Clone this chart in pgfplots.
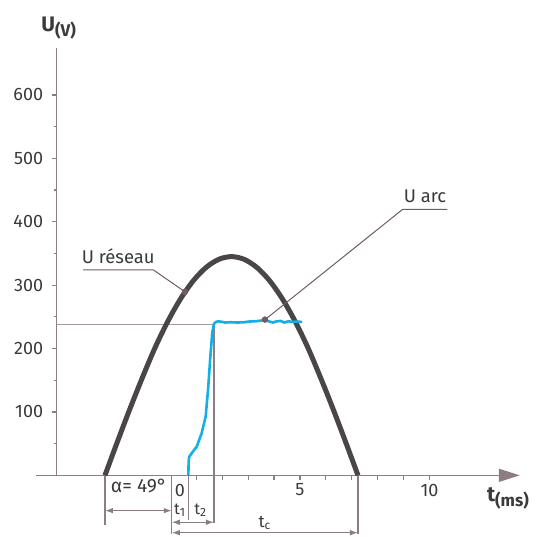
\documentclass[border=0pt]{standalone}
\usepackage{fontspec}
\setmainfont{Fira Sans}
\usepackage{pgfplots}
\pgfplotsset{compat=1.18}
\usetikzlibrary{arrows.meta}
\definecolor{axc}{RGB}{140,125,132}
\definecolor{curvec}{RGB}{74,70,72}
\definecolor{bluec}{RGB}{20,175,230}
\definecolor{leadc}{RGB}{112,92,100}
\definecolor{txtc}{RGB}{58,58,58}
\definecolor{hlc}{RGB}{165,152,156}
\begin{document}
\begin{tikzpicture}
\begin{axis}[
  x=12.95pt, y=0.317pt,
  xmin=-4.39, xmax=13.49, ymin=0, ymax=674,
  axis lines=left,
  clip=false,
  x axis line style={-{Triangle[length=10.5pt,width=6.5pt]}, color=axc, line width=0.7pt},
  y axis line style={-, color=axc, line width=0.7pt},
  tick align=outside,
  tick style={color=axc, line width=0.6pt},
  major tick length=2.5pt,
  minor tick length=1.5pt,
  xtick={1,2,3,4,5,6,7,8,9,10},
  xticklabels={,,,,5,,,,,10},
  ytick={100,200,300,400,500,600},
  minor ytick={50,150,250,350,450,550},
  tick label style={font=\fontsize{9}{11}\selectfont, text=txtc},
  xticklabel style={yshift=1.8pt},
  yticklabel style={xshift=-0.8pt},
  /pgf/number format/assume math mode=true,
  extra x ticks={0},
  extra x tick labels={0},
  extra x tick style={tick style={draw=none}, xticklabel style={xshift=4.75pt}},
]
% invisible frame of the picture
\path (axis cs:-6.583,749.8) rectangle (axis cs:14.23,-92.4);
% x axis continued to the left
\addplot[axc, line width=0.7pt] coordinates {(-5.19,0) (-4.39,0)};
% horizontal reference line
\addplot[hlc, line width=0.9pt] coordinates {(-4.39,238) (1.68,238)};
% vertical construction lines
\addplot[axc, line width=0.6pt] coordinates {(-2.53,0) (-2.53,-78)};
\addplot[axc, line width=0.6pt] coordinates {(0.05,0) (0.05,-92)};
\addplot[axc, line width=0.6pt] coordinates {(0.69,0) (0.69,-70)};
\addplot[axc, line width=0.6pt] coordinates {(1.68,238) (1.68,-75)};
\addplot[axc, line width=0.6pt] coordinates {(7.24,0) (7.24,-92)};
% dimension arrows
\addplot[axc, line width=0.6pt, {Latex[length=4pt,width=2.8pt]}-{Latex[length=4pt,width=2.8pt]}] coordinates {(-2.53,-55.7) (0.05,-55.7)};
\addplot[axc, line width=0.6pt, {Latex[length=4pt,width=2.8pt]}-{Latex[length=4pt,width=2.8pt]}] coordinates {(0.05,-74) (1.68,-74)};
\addplot[axc, line width=0.6pt, {Latex[length=4pt,width=2.8pt]}-{Latex[length=4pt,width=2.8pt]}] coordinates {(0.05,-90.5) (7.24,-90.5)};
% U reseau (sine half wave)
\addplot[curvec, line width=2.5pt, smooth] coordinates {
 (-2.53,0) (-2.04,54.0) (-1.55,106.6) (-1.06,156.6) (-0.58,202.8) (-0.09,243.9)
 (0.40,279.1) (0.89,307.4) (1.38,328.1) (1.87,340.8) (2.355,345)
 (2.84,340.8) (3.33,328.1) (3.82,307.4) (4.31,279.1) (4.80,243.9)
 (5.29,202.8) (5.77,156.6) (6.26,106.6) (6.75,54.0) (7.24,0)};
% U arc
\addplot[bluec, line width=1.3pt] coordinates {
 (0.69,0) (0.70,20) (0.72,29) (0.82,35) (1.01,45) (1.20,66) (1.36,93)
 (1.46,140) (1.53,182) (1.61,224) (1.68,239) (1.76,242) (1.85,243)
 (2.00,242) (2.10,241) (2.30,241.5) (2.60,241) (2.85,241.5) (3.00,242.5)
 (3.30,243) (3.65,245) (3.80,243) (3.95,241) (4.10,243) (4.25,243.5)
 (4.40,241) (4.55,243) (4.70,242) (4.85,242.5) (5.08,242)};
% leaders
\addplot[leadc, line width=0.5pt] coordinates {(-3.37,324) (-0.66,324) (0.56,289.5)};
\addplot[leadc, line width=0.5pt] coordinates {(3.65,245.6) (8.97,419.7) (10.69,419.7)};
\addplot[only marks, mark=*, mark size=1.4pt, leadc] coordinates {(0.56,289.5) (3.65,245.6)};
% texts
\node[text=txtc, font=\fontsize{9.2}{11}\selectfont] at (axis cs:-2.02,345) {U réseau};
\node[text=txtc, font=\fontsize{9.2}{11}\selectfont] at (axis cs:9.83,440.7) {U arc};
\node[text=txtc, font=\fontsize{9.6}{11}\selectfont] at (axis cs:-1.216,-16.5) {α= 49°};
\node[text=txtc, font=\fontsize{8}{10}\selectfont, inner sep=0.5pt] at (axis cs:0.37,-55) {t\textsubscript{1}};
\node[text=txtc, font=\fontsize{8}{10}\selectfont, inner sep=0.5pt] at (axis cs:1.17,-55) {t\textsubscript{2}};
\node[text=txtc, font=\fontsize{8.5}{10}\selectfont] at (axis cs:3.65,-75.1) {t\textsubscript{c}};
\node[text=txtc, font=\bfseries\fontsize{10.5}{12}\selectfont] at (axis cs:-4.32,705) {U\raisebox{-2.5pt}{\fontsize{8.5}{9}\selectfont (V)}};
\node[text=txtc, font=\bfseries\fontsize{10.5}{12}\selectfont] at (axis cs:13.03,-35.6) {t\raisebox{-2.5pt}{\fontsize{8.5}{9}\selectfont (ms)}};
\end{axis}
\end{tikzpicture}
\end{document}
